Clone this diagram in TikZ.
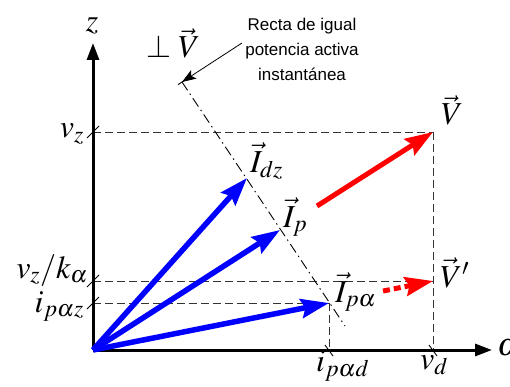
\documentclass[tikz,border=0pt]{standalone}
\usepackage{mathptmx}
\usepackage[no-math]{fontspec}
\setsansfont{Liberation Sans}
\usetikzlibrary{arrows.meta,calc}
\tikzset{
  axis/.style={line width=3pt,-{Triangle[length=17pt,width=12pt]}},
  bluevec/.style={blue,line width=5.5pt,-{Stealth[length=28pt,width=19pt,inset=4pt]}},
  redvec/.style={red,line width=5pt,-{Stealth[length=28pt,width=19pt,inset=4pt]}},
  guide/.style={black!80,line width=0.9pt,dash pattern=on 8pt off 4pt},
  recta/.style={black,line width=0.9pt,dash pattern=on 10pt off 4pt on 1.5pt off 4pt},
  tick/.style={black,line width=0.9pt},
  mlabel/.style={inner sep=0pt,font=\fontsize{32}{32}\selectfont},
}
\begin{document}
\begin{tikzpicture}[x=1pt,y=-1pt]
\useasboundingbox (0,0) rectangle (510,387);
% key points
\coordinate (O) at (93,350);
\coordinate (Zend) at (93,43);
\coordinate (Xend) at (492,350);
\coordinate (Idz) at (247,178);
\coordinate (Ip) at (280,230);
\coordinate (Ipa) at (329,303);
\coordinate (V) at (433,132);
\coordinate (Vp) at (433,281);
\coordinate (Vs) at (317,206);
\coordinate (Vps) at (383,291);
\coordinate (Vz) at (93,132);
\coordinate (Vzk) at (93,281);
\coordinate (Ipaz) at (93,303);
\coordinate (Ipad) at (329,350);
\coordinate (Vd) at (433,350);
\coordinate (Rtop) at (182,82);
\coordinate (Rbot) at (345,326);
% guide lines
\draw[guide] (Vz) -- (V);
\draw[guide] (V) -- (Vd);
\draw[guide] (Vzk) -- (Vp);
\draw[guide] (Ipaz) -- (Ipa);
\draw[guide] (Ipa) -- (Ipad);
% line of equal power
\draw[recta] (Rtop) -- (Rbot);
\draw[tick] ($(Rtop)+(-4,2.7)$) -- ($(Rtop)+(4,-2.7)$);
% ticks
\foreach \p in {Vz,Vzk,Ipaz}{
  \draw[tick] ($(\p)+(-6,6)$) -- ($(\p)+(6,-6)$);
}
\foreach \p in {Ipad,Vd}{
  \draw[tick] ($(\p)+(-4,-5)$) -- ($(\p)+(4,6)$);
}
% axes
\draw[axis] (O) -- (Zend);
\draw[axis] (O) -- (Xend);
% vectors
\draw[bluevec] (O) -- (Idz);
\draw[bluevec] (O) -- (Ip);
\draw[bluevec] (O) -- (Ipa);
\draw[redvec] (Vs) -- (V);
\draw[redvec,dash pattern=on 7pt off 4pt] (Vps) -- (Vp);
% text
\node[align=center,inner sep=0pt,font=\sffamily\fontsize{17}{25}\selectfont] (txt) at (302,49)
  {Recta de igual\\potencia activa\\instantánea};
\coordinate (txtarrow) at (242,43);
\draw[line width=0.8pt,-{Stealth[length=14pt,width=10pt,inset=3pt]}] (txtarrow) -- (Rtop);
% labels
\node[mlabel] (lz) at (92,26) {$z$};
\node[mlabel,anchor=base west] (lperp) at (146,58) {$\perp\vec{V}$};
\node[mlabel,anchor=base east] (lvz) at (84,138) {$v_z$};
\node[mlabel,anchor=base east] (lvzk) at (88,278) {$v_z/k_\alpha$};
\node[mlabel,anchor=base east] (lipaz) at (84,312) {$i_{p\alpha z}$};
\node[mlabel,anchor=base west] (lipad) at (316,371) {$i_{p\alpha d}$};
\node[mlabel,anchor=base west] (lvd) at (420,369) {$v_d$};
\node[mlabel,anchor=base west] (lalpha) at (497,355) {$\alpha$};
\node[mlabel,anchor=base west] (lV) at (441,125) {$\vec{V}$};
\node[mlabel,anchor=base west] (lVp) at (440,287) {$\vec{V}'$};
\node[mlabel,anchor=base west] (lIdz) at (250,172) {$\vec{I}_{dz}$};
\node[mlabel,anchor=base west] (lIp) at (283,227) {$\vec{I}_{p}$};
\node[mlabel,anchor=base west] (lIpa) at (335,302) {$\vec{I}_{p\alpha}$};
\end{tikzpicture}
\end{document}
